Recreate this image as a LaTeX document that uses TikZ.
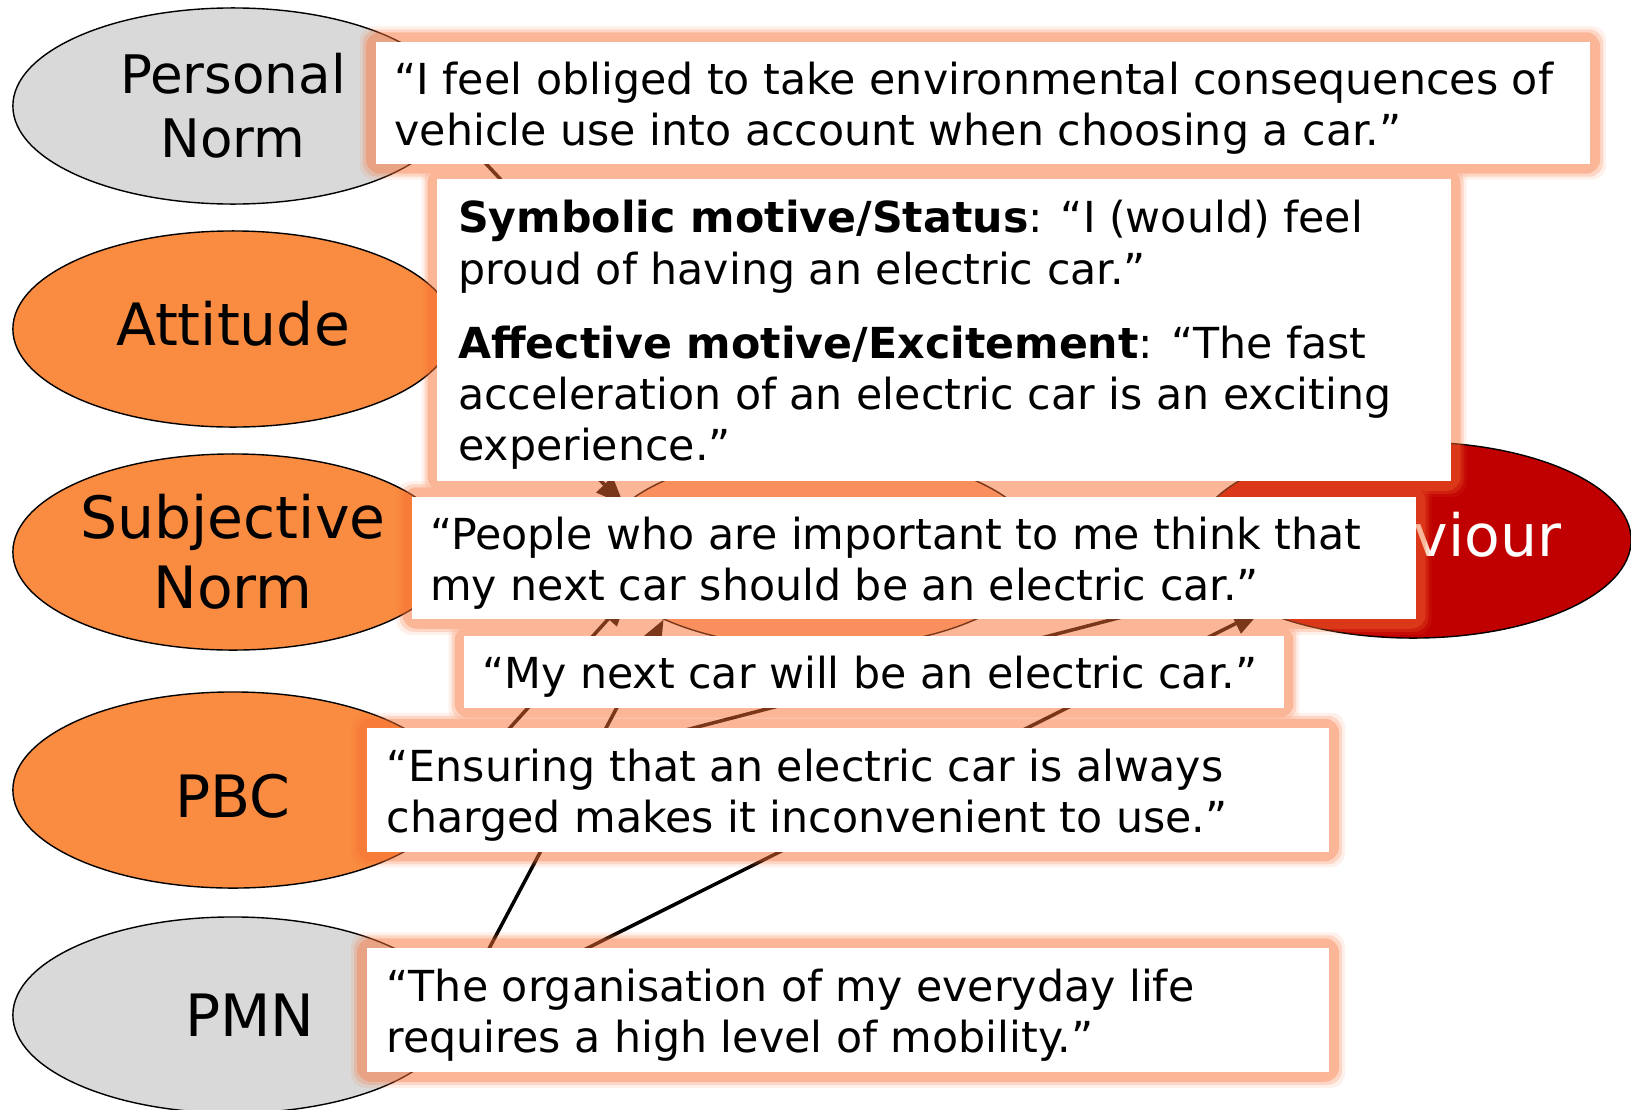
\documentclass[tikz,border=0pt]{standalone}
\usepackage{fontspec}
\setmainfont{DejaVu Sans}
\usetikzlibrary{positioning,shapes.geometric,arrows.meta}
\definecolor{normgrey}{RGB}{217,217,217}
\definecolor{tpborange}{RGB}{250,140,65}
\definecolor{intorange}{RGB}{250,178,135}
\definecolor{behred}{RGB}{192,0,0}
\definecolor{halo}{RGB}{247,110,50}
\pgfdeclarelayer{back}
\pgfdeclarelayer{glow}
\pgfsetlayers{back,glow,main}
\tikzset{
  construct/.style={ellipse, draw=black, line width=0.4pt, minimum width=4.4cm,
    minimum height=1.96cm, inner sep=0pt, align=center,
    font=\fontsize{16.6}{19.8}\selectfont},
  link/.style={line width=1pt, -{Triangle[length=0.28cm,width=0.22cm]}},
  quotebox/.style={fill=white, inner sep=0pt},
  quotetext/.style={inner sep=0pt, align=left, yshift=-0.05cm,
    font=\fontsize{12.15}{14.6}\selectfont}
}

\begin{document}
\begin{tikzpicture}[x=0.01cm, y=-0.01cm]
    \useasboundingbox (0,0) rectangle (1631,1109);
    \begin{pgfonlayer}{back}
      % constructs
      \node[construct, fill=normgrey, font=\fontsize{15.1}{18.2}\selectfont] (pn) at (233,106) {Personal\\Norm};
      \node[construct, fill=tpborange, text depth=3.4pt] (att) at (233,329) {Attitude};
      \node[construct, fill=tpborange] (sn) at (233,552) {Subjective\\Norm};
      \node[construct, fill=tpborange, text height=16pt] (pbc) at (233,790) {PBC};
      \node[construct, fill=normgrey] (pmn) at (233,1015) {\hspace*{0.34cm}PMN};
      \node[construct, fill=intorange] (int) at (820,550) {};
      \node[construct, fill=behred, text=white, text depth=3pt, minimum width=4.36cm] (beh) at (1413,540) {Behaviour};
      % paths between the constructs
      \foreach \a/\b in {pn.-5/int.123, att.east/int.167, sn.east/int.west,
                         pbc.east/int.194, pmn.east/int.204, pbc.east/beh.195,
                         pmn.east/beh.205, int.east/beh.west}
        \draw[link] (\a) -- (\b);
    \end{pgfonlayer}
    % quotes
    \node[quotebox, minimum width=12.14cm, minimum height=1.22cm] (qpn) at (983,103) {};
    \node[quotetext, right=0.19cm of qpn.west] (tpn)
      {“I feel obliged to take environmental consequences of\\
       vehicle use into account when choosing a car.”};
    \node[quotebox, minimum width=10.13cm, minimum height=3.02cm] (qatt) at (944,330) {};
    \node[quotetext, right=0.21cm of qatt.west] (tatt)
      {\textbf{Symbolic motive/Status}: “I (would) feel\\
       proud of having an electric car.”\\[6.5pt]
       \textbf{Affective motive/Excitement}: “The fast\\
       acceleration of an electric car is an exciting\\
       experience.”};
    \node[quotebox, minimum width=10.03cm, minimum height=1.22cm] (qsn) at (914,558) {};
    \node[quotetext, right=0.18cm of qsn.west] (tsn)
      {“People who are important to me think that\\
       my next car should be an electric car.”};
    \node[quotebox, minimum width=8.19cm, minimum height=0.72cm] (qint) at (874,672) {};
    \node[quotetext, right=0.18cm of qint.west] (tint)
      {“My next car will be an electric car.”};
    \node[quotebox, minimum width=9.62cm, minimum height=1.23cm] (qpbc) at (848,790) {};
    \node[quotetext, right=0.2cm of qpbc.west] (tpbc)
      {“Ensuring that an electric car is always\\
       charged makes it inconvenient to use.”};
    \node[quotebox, minimum width=9.62cm, minimum height=1.24cm] (qpmn) at (848,1010) {};
    \node[quotetext, right=0.2cm of qpmn.west] (tpmn)
      {“The organisation of my everyday life\\
       requires a high level of mobility.”};
    % soft glow round the quotes, outer rings fainter
    \begin{pgfonlayer}{glow}
      \begin{scope}[transparency group, opacity=0.5]
        \foreach \q in {qpn,qatt,qsn,qint,qpbc,qpmn}
          \foreach \d/\o in {15/0.2, 12/0.45, 9/1}
            \fill[halo, opacity=\o, rounded corners=4pt]
              ([shift={(-\d,-\d)}]\q.north west) rectangle ([shift={(\d,\d)}]\q.south east);
      \end{scope}
    \end{pgfonlayer}
\end{tikzpicture}
\end{document}
